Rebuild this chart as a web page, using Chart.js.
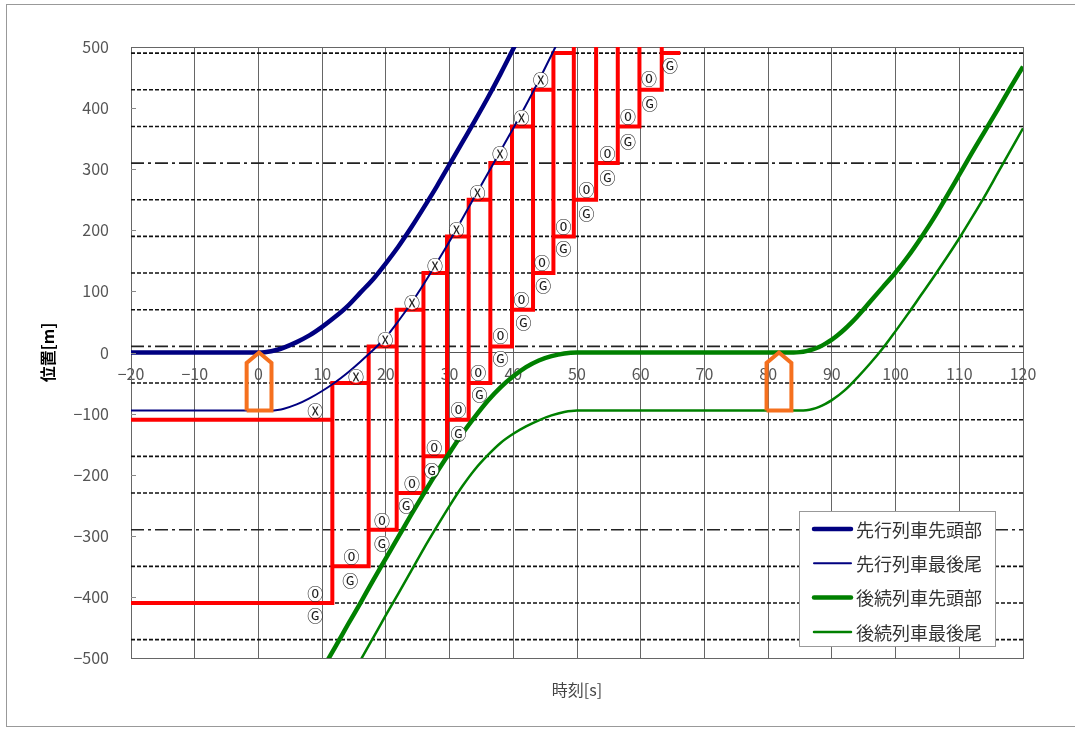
<!DOCTYPE html>
<html><head><meta charset="utf-8">
<script src="https://cdn.jsdelivr.net/npm/chart.js@4.4.0/dist/chart.umd.min.js"></script>
<style>html,body{margin:0;padding:0;background:#fff;}#wrap{position:relative;width:1075px;height:729px;}</style>
</head><body><div id="wrap"><canvas id="c"></canvas></div>
<script>
// ---------- axis ranges ----------
const timeMin = -20, timeMax = 120, timeStep = 10;
const posMin = -500, posMax = 500, posStep = 100;

// ---------- legend labels ----------
const seriesLabels = ['先行列車先頭部', '先行列車最後尾', '後続列車先頭部', '後続列車最後尾'];

// ---------- train curves (time s, position m) ----------
const leadHeadT = [-20, 0, 1, 2, 3, 4, 6, 8, 10, 12, 14, 16, 18, 20, 22, 24, 26, 28, 30, 32, 34, 36, 38, 40, 41];
const leadHeadY = [0, 0, 0.5, 2, 4.5, 8, 17, 28, 42, 58, 76, 98, 120, 146, 174, 205, 238, 272, 308, 344, 380, 417, 456, 497, 518];

const leadRearT = [-20, 2, 3, 4, 6, 8, 10, 12, 14, 16, 18, 20, 22, 24, 26, 28, 30, 32, 34, 36, 38, 40, 42, 44, 46, 47];
const leadRearY = [-95, -95, -94, -92, -85, -75, -63, -49, -33, -15, 4, 25, 52, 81, 113, 147, 182, 219, 256, 293, 330, 367, 405, 445, 487, 508];

const followHeadT = [10, 12, 14, 16, 18, 20, 22, 24, 26, 28, 30, 32, 34, 36, 38, 40, 42, 44, 46, 48, 50, 84, 85, 86, 87, 88, 89, 90, 91, 92, 93, 94, 96, 98, 100, 102, 104, 106, 108, 110, 112, 114, 116, 118, 120];
const followHeadY = [-519, -483, -446, -410, -373, -337, -301, -265, -230, -196, -164, -133, -105, -79, -57, -39, -24, -13, -6, -1.5, 0, 0, 0.6, 2.3, 5, 9, 14.5, 21, 29, 38, 48, 59, 83, 107, 131, 158, 188, 220, 255, 291, 327, 362, 397, 433, 468];

const followRearT = [15, 16, 18, 20, 22, 24, 26, 28, 30, 32, 34, 36, 38, 40, 42, 44, 46, 48, 50, 85, 86, 87, 88, 89, 90, 92, 94, 96, 98, 100, 102, 104, 106, 108, 110, 112, 114, 116, 118, 120];
const followRearY = [-522, -504, -467, -430, -394, -357, -320, -285, -251, -219, -191, -168, -148, -133, -121, -111, -103, -97.5, -95, -95, -94.4, -92.5, -89, -84, -78, -62, -41, -18, 7, 35, 64, 94, 124, 155, 187, 221, 256, 293, 330, 367];

// ---------- block boundaries (m) ----------
const blockBoundaries = [490, 430, 370, 250, 190, 130, 70, -50, -110, -170, -230, -350, -410, -470];
const dashDotBoundaries = [310, 10, -290];

// ---------- signal stop limits (red) ----------
const signalStepTimes = [11.6, 17.3, 21.7, 25.9, 29.6, 33.0, 36.4, 39.8, 43.1, 46.3, 49.5, 53.0, 56.4, 59.8, 63.3];
const upperLimitLevels = [-110, -50, 10, 70, 130, 190, 250, 310, 370, 430, 490, 550, 610, 670, 730, 790];
const lowerLimitLevels = [-410, -350, -290, -230, -170, -110, -50, 10, 70, 130, 190, 250, 310, 370, 430, 490];
const lowerLimitEndTime = 66.2;

// ---------- train markers (orange) ----------
const trainMarkerTimes = [0.1, 81.7];
const trainMarkerHead = 0;
const trainMarkerTail = -95;

// ---------- circled annotations ----------
const xMarkT = [8.9, 15.3, 19.9, 24.1, 27.7, 31.1, 34.4, 37.9, 41.3, 44.3];
const xMarkY = [-94, -38, 23, 82, 143, 203, 263, 326, 386, 447];
const zeroMarkT = [8.9, 14.6, 19.4, 24.1, 27.6, 31.4, 34.5, 38.0, 41.3, 44.5, 47.9, 51.5, 54.8, 58.0, 61.3];
const zeroMarkY = [-393, -333, -274, -213, -154, -93, -32, 28, 88, 148, 207, 268, 327, 387, 449];
const gMarkT = [8.9, 14.4, 19.4, 23.2, 27.2, 31.4, 34.7, 38.0, 41.6, 44.7, 47.9, 51.5, 54.8, 58.0, 61.4, 64.6];
const gMarkY = [-429, -372, -311, -250, -192, -132, -68, -9, 50, 111, 171, 229, 288, 347, 409, 470];

// ---------- styles ----------
const FONT = "'Noto Sans CJK JP', 'DejaVu Sans', sans-serif";
const NAVY = '#000080', GREEN = '#008000', RED = '#ff0000', ORANGE = '#f5701e';
const markerHalfWidth = 1.95, markerShoulder = -17;

function pts(ts, ys) { return ts.map((t, i) => ({x: t, y: ys[i]})); }

// red path: upper staircase, lower staircase, connectors
const redPts = [];
redPts.push({x: timeMin, y: upperLimitLevels[0]});
signalStepTimes.forEach((t, i) => { redPts.push({x: t, y: upperLimitLevels[i]}); redPts.push({x: t, y: upperLimitLevels[i + 1]}); });
redPts.push({x: timeMax, y: null});
redPts.push({x: timeMin, y: lowerLimitLevels[0]});
signalStepTimes.forEach((t, i) => { redPts.push({x: t, y: lowerLimitLevels[i]}); redPts.push({x: t, y: lowerLimitLevels[i + 1]}); });
redPts.push({x: lowerLimitEndTime, y: lowerLimitLevels[lowerLimitLevels.length - 1]});
redPts.push({x: timeMax, y: null});
signalStepTimes.forEach((t, i) => {
  redPts.push({x: t, y: lowerLimitLevels[i]});
  redPts.push({x: t, y: upperLimitLevels[i + 1]});
  redPts.push({x: t, y: null});
});

// orange train markers
const markerPts = [];
trainMarkerTimes.forEach(c => {
  markerPts.push({x: c - markerHalfWidth, y: trainMarkerTail});
  markerPts.push({x: c - markerHalfWidth, y: markerShoulder});
  markerPts.push({x: c, y: trainMarkerHead});
  markerPts.push({x: c + markerHalfWidth, y: markerShoulder});
  markerPts.push({x: c + markerHalfWidth, y: trainMarkerTail});
  markerPts.push({x: c - markerHalfWidth, y: trainMarkerTail});
  markerPts.push({x: c, y: null});
});

const datasets = [];
datasets.push({label: 'marker', data: markerPts, borderColor: ORANGE, borderWidth: 4, borderJoinStyle: 'miter', order: 1, pointRadius: 0});
datasets.push({label: seriesLabels[0], data: pts(leadHeadT, leadHeadY), borderColor: NAVY, borderWidth: 4.5, cubicInterpolationMode: 'monotone', order: 3, pointRadius: 0, legend: true});
datasets.push({label: seriesLabels[1], data: pts(leadRearT, leadRearY), borderColor: NAVY, borderWidth: 2, cubicInterpolationMode: 'monotone', order: 3, pointRadius: 0, legend: true});
datasets.push({label: seriesLabels[2], data: pts(followHeadT, followHeadY), borderColor: GREEN, borderWidth: 4.5, cubicInterpolationMode: 'monotone', order: 3, pointRadius: 0, legend: true});
datasets.push({label: seriesLabels[3], data: pts(followRearT, followRearY), borderColor: GREEN, borderWidth: 2.5, cubicInterpolationMode: 'monotone', order: 3, pointRadius: 0, legend: true});
datasets.push({label: 'limit', data: redPts, borderColor: RED, borderWidth: 4, borderJoinStyle: 'miter', order: 5, pointRadius: 0});
blockBoundaries.forEach(v => datasets.push({label: 'b' + v, data: [{x: timeMin, y: v}, {x: timeMax, y: v}], borderColor: '#111', borderWidth: 1.6, borderDash: [4, 2], order: 10, pointRadius: 0}));
dashDotBoundaries.forEach(v => datasets.push({label: 'd' + v, data: [{x: timeMin, y: v}, {x: timeMax, y: v}], borderColor: '#222', borderWidth: 1.6, borderDash: [13, 4, 3, 4], order: 10, pointRadius: 0}));

const fmt = v => String(v).replace('-', '\u2212');

const framePlugin = {
  id: 'frame',
  beforeDraw(chart) {
    const c = chart.ctx;
    c.save();
    c.fillStyle = '#fff'; c.fillRect(0, 0, chart.width, chart.height);
    c.strokeStyle = '#999'; c.lineWidth = 1;
    c.strokeRect(6.5, 4.5, 1080, 722);
    c.restore();
  },
  afterDraw(chart) {
    const c = chart.ctx, ys = chart.scales.y, ca = chart.chartArea;
    c.save(); c.strokeStyle = '#888'; c.lineWidth = 1;
    for (let v = posMin + posStep; v < posMax; v += posStep) {
      const py = Math.round(ys.getPixelForValue(v)) + 0.5;
      c.beginPath(); c.moveTo(ca.left, py); c.lineTo(ca.left + 5, py); c.stroke();
    }
    c.restore();
  }
};

const marksPlugin = {
  id: 'marks',
  afterDatasetsDraw(chart) {
    const c = chart.ctx, xs = chart.scales.x, ys = chart.scales.y, ca = chart.chartArea;
    c.save();
    c.beginPath(); c.rect(ca.left, ca.top, ca.right - ca.left, ca.bottom - ca.top); c.clip();
    c.font = '16px ' + FONT; c.textAlign = 'center'; c.textBaseline = 'middle';
    const groups = [[xMarkT, xMarkY, '\u24CD'], [zeroMarkT, zeroMarkY, '\u24EA'], [gMarkT, gMarkY, '\u24BC']];
    groups.forEach(([ts, vs, g]) => {
      ts.forEach((t, i) => {
        const px = xs.getPixelForValue(t), py = ys.getPixelForValue(vs[i]);
        c.fillStyle = '#fff'; c.beginPath(); c.arc(px, py, 7, 0, Math.PI * 2); c.fill();
        c.fillStyle = '#222'; c.fillText(g, px, py + 1);
      });
    });
    c.restore();
  }
};

const legendPlugin = {
  id: 'customLegend',
  afterDraw(chart) {
    const c = chart.ctx;
    const items = chart.data.datasets.filter(d => d.legend);
    const bx = 799.5, by = 511.5, bw = 196, bh = 135;
    c.save();
    c.fillStyle = '#fff'; c.fillRect(bx, by, bw, bh);
    c.strokeStyle = '#999'; c.lineWidth = 1; c.strokeRect(bx, by, bw, bh);
    c.font = '18px ' + FONT; c.textAlign = 'left'; c.textBaseline = 'middle';
    items.forEach((d, i) => {
      const ry = 529 + i * 34.3;
      c.strokeStyle = d.borderColor; c.lineWidth = d.borderWidth; c.lineCap = 'round';
      c.beginPath(); c.moveTo(814, ry); c.lineTo(851, ry); c.stroke();
      c.fillStyle = '#333'; c.fillText(d.label, 856, ry + 1);
    });
    c.restore();
  }
};

new Chart(document.getElementById('c'), {
  type: 'line',
  data: {datasets},
  options: {
    responsive: true, maintainAspectRatio: false, animation: false,
    layout: {padding: {left: 0, right: 52, top: 47, bottom: 0}},
    elements: {point: {radius: 0}, line: {fill: false}},
    plugins: {legend: {display: false}, tooltip: {enabled: false}},
    scales: {
      x: {
        type: 'linear', min: timeMin, max: timeMax, position: 'bottom',
        ticks: {display: false, stepSize: timeStep},
        grid: {color: '#666', lineWidth: 1, drawTicks: false},
        border: {display: true, color: '#666'},
        title: {display: true, text: '時刻[s]', color: '#444', font: {size: 16, family: FONT}, padding: {top: 0, bottom: 29.4}},
        afterFit(s) { s.height = 71; }
      },
      x2: {
        type: 'linear', axis: 'x', min: timeMin, max: timeMax, position: {y: 0},
        ticks: {stepSize: timeStep, color: '#555', font: {size: 16, family: FONT}, padding: 12, callback: v => fmt(v)},
        grid: {display: true, drawOnChartArea: false, drawTicks: false},
        border: {display: true, color: '#555', width: 1}
      },
      y: {
        type: 'linear', min: posMin, max: posMax, position: 'left',
        ticks: {stepSize: posStep, color: '#555', font: {size: 16, family: FONT}, padding: 22, callback: v => fmt(v)},
        grid: {drawTicks: false, color: ctx => (ctx.tick && (ctx.tick.value === posMax || ctx.tick.value === posMin)) ? '#666' : 'rgba(0,0,0,0)'},
        border: {display: true, color: '#666'},
        title: {display: true, text: '位置[m]', color: '#000', font: {size: 16, weight: 'bold', family: FONT}, padding: {top: 38.4, bottom: 0}},
        afterFit(s) { s.width = 131; }
      }
    }
  },
  plugins: [framePlugin, marksPlugin, legendPlugin]
});
</script>
</body></html>
